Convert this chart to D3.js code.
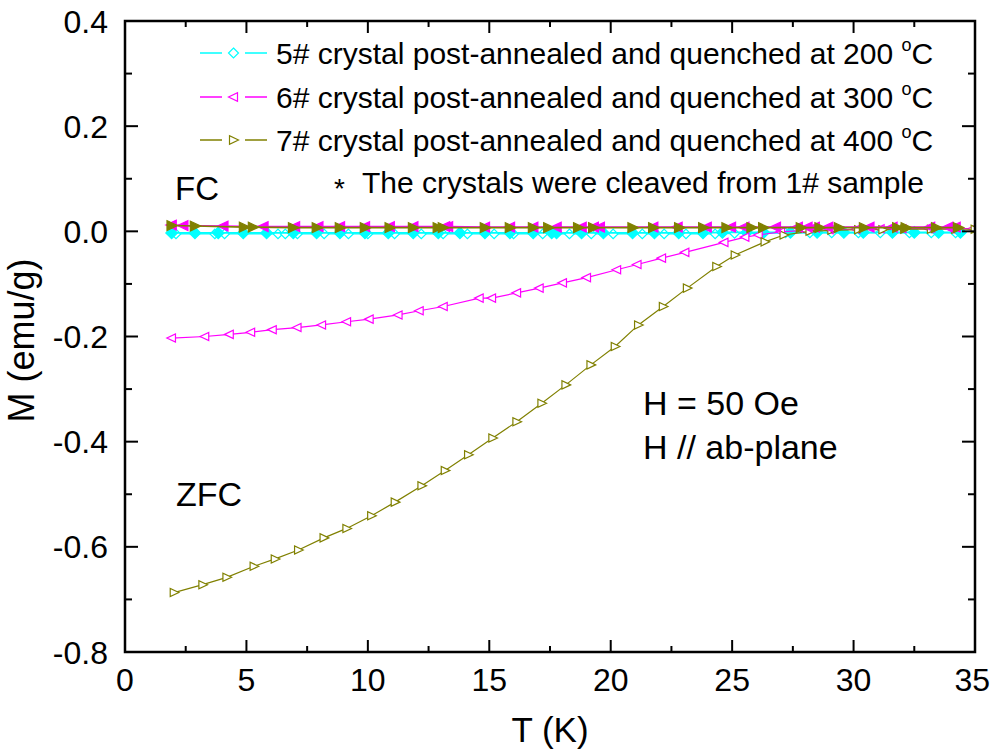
<!DOCTYPE html>
<html><head><meta charset="utf-8">
<script src="https://cdn.jsdelivr.net/npm/d3@7"></script>
<style>body{margin:0;background:#fff}svg{display:block}text{font-family:"Liberation Sans",Arial,sans-serif;fill:#000}</style>
</head><body><svg id="c" width="991" height="753"></svg>
<script>
// ---- data ----
const xTicks = [0,5,10,15,20,25,30,35];
const xTickLabels = ["0","5","10","15","20","25","30","35"];
const yTicks = [-0.8,-0.6,-0.4,-0.2,0.0,0.2,0.4];
const yTickLabels = ["-0.8","-0.6","-0.4","-0.2","0.0","0.2","0.4"];

// 5# (200 C) FC filled diamonds
const fc5T = [1.92,2.88,3.84,4.87,5.83,6.93,7.89,8.85,9.88,10.84,11.87,12.9,13.79,14.82,15.85,16.81,17.57,17.77,18.8,19.7,20.9,21.8,22.8,23.8,24.6,25.6,26.3,27.4,28.5,29.6,30.4,31.6,32.5,33.5,34.4];
const fc5M = [-0.003,-0.003,-0.003,-0.003,-0.003,-0.003,-0.003,-0.003,-0.003,-0.003,-0.003,-0.003,-0.003,-0.003,-0.003,-0.003,-0.003,-0.003,-0.003,-0.003,-0.003,-0.003,-0.003,-0.003,-0.002,-0.002,-0.002,-0.002,-0.002,-0.002,-0.002,-0.002,-0.002,-0.002,-0.002];
// 5# ZFC open diamonds
const zfc5T = [2.1,3.7,4.1,6.3,6.6,7.1,8.2,9.2,10.0,11.1,12.2,13.1,14.1,15.2,16.0,17.2,18.3,19.2,20.1,21.3,22.2,23.1,24.3,25.1,26.2,27.2,28.2,29.1,30.2,31.1,32.3,33.2,34.2];
const zfc5M = [-0.005,-0.005,-0.005,-0.005,-0.005,-0.005,-0.005,-0.005,-0.005,-0.005,-0.005,-0.005,-0.005,-0.005,-0.005,-0.005,-0.005,-0.005,-0.005,-0.005,-0.005,-0.005,-0.005,-0.004,-0.004,-0.003,-0.003,-0.003,-0.003,-0.003,-0.003,-0.003,-0.003];
// 6# (300 C) FC filled left triangles
const fc6T = [1.92,2.4,4.05,5.7,7.0,7.96,8.85,9.88,10.9,11.87,13.18,13.3,14.82,15.85,16.81,17.77,18.8,19.3,19.55,21.75,22.75,23.95,24.95,25.5,26.8,27.7,28.1,28.4,28.95,30.65,31.6,33.15,33.9,34.2];
const fc6M = [0.012,0.011,0.010,0.009,0.009,0.009,0.009,0.009,0.009,0.009,0.009,0.009,0.008,0.008,0.008,0.008,0.008,0.008,0.008,0.008,0.008,0.008,0.008,0.008,0.008,0.008,0.008,0.008,0.008,0.008,0.008,0.008,0.008,0.008];
// 6# ZFC open left triangles
const zfc6T = [1.92,3.29,4.30,5.18,6.07,7.09,8.10,9.13,10.06,11.25,12.12,13.11,14.59,15.10,16.13,17.06,18.02,19.01,20.25,21.09,22.10,23.06,24.67,25.53,26.08,27.0,28.0,29.0,30.1,31.1,32.0,33.1,34.0,34.9];
const zfc6M = [-0.203,-0.200,-0.196,-0.192,-0.187,-0.183,-0.178,-0.172,-0.167,-0.159,-0.151,-0.143,-0.127,-0.127,-0.117,-0.108,-0.098,-0.088,-0.073,-0.063,-0.051,-0.040,-0.021,-0.011,-0.007,-0.001,0.002,0.003,0.004,0.005,0.005,0.005,0.005,0.005];
// 7# (400 C) FC filled right triangles
const fc7T = [1.92,2.88,4.9,5.27,6.92,7.9,8.85,9.88,10.9,11.86,12.88,13.09,14.82,15.85,16.8,17.43,18.66,19.28,20.9,21.75,22.82,23.81,24.77,25.8,26.28,27.83,28.6,29.4,30.43,31.8,32.15,33.4,34.3];
const fc7M = [0.011,0.010,0.008,0.008,0.007,0.007,0.007,0.007,0.007,0.007,0.007,0.007,0.007,0.007,0.007,0.007,0.007,0.007,0.007,0.007,0.007,0.007,0.007,0.007,0.007,0.007,0.007,0.007,0.007,0.007,0.007,0.007,0.007];
// 7# ZFC open right triangles
const zfc7T = [2.02,3.2,4.19,5.31,6.18,7.14,8.19,9.13,10.15,11.12,12.22,13.18,14.14,15.14,16.13,17.16,18.15,19.18,20.18,21.14,22.16,23.15,24.36,25.12,26.35,27.13,28.2,29.1,30.2,31.2,32.1,33.2,34.2,35.0];
const zfc7M = [-0.687,-0.672,-0.658,-0.637,-0.623,-0.606,-0.583,-0.565,-0.541,-0.515,-0.484,-0.455,-0.425,-0.393,-0.362,-0.327,-0.292,-0.254,-0.219,-0.178,-0.143,-0.108,-0.067,-0.045,-0.020,-0.007,0.000,0.002,0.003,0.003,0.004,0.004,0.004,0.004];

const legendLabels = ["5# crystal post-annealed and quenched at 200 ","6# crystal post-annealed and quenched at 300 ","7# crystal post-annealed and quenched at 400 "];
const colors = ["#00FFFF","#FF00FF","#808000"];

// ---- layout ----
const W=991,L=125,R=975,T=21,B=652;
const svg=d3.select("#c");
const x=d3.scaleLinear().domain([0,35]).range([L,R]);
const y=d3.scaleLinear().domain([-0.8,0.4]).range([B,T]);

svg.append("clipPath").attr("id","pc").append("rect").attr("x",L).attr("y",T).attr("width",R-L).attr("height",B-T);

function sym(type, cx, cy, s){
  if(type==="diamond") return `M${cx},${cy-s}L${cx+s},${cy}L${cx},${cy+s}L${cx-s},${cy}Z`;
  if(type==="left") return `M${cx-s},${cy}L${cx+s*0.8},${cy-s*0.85}L${cx+s*0.8},${cy+s*0.85}Z`;
  if(type==="right") return `M${cx+s},${cy}L${cx-s*0.8},${cy-s*0.85}L${cx-s*0.8},${cy+s*0.85}Z`;
}
const series=[
  {t:zfc5T,m:zfc5M,c:colors[0],sym:"diamond",fill:false},
  {t:fc5T,m:fc5M,c:colors[0],sym:"diamond",fill:true},
  {t:zfc6T,m:zfc6M,c:colors[1],sym:"left",fill:false},
  {t:zfc7T,m:zfc7M,c:colors[2],sym:"right",fill:false},
  {t:fc6T,m:fc6M,c:colors[1],sym:"left",fill:true},
  {t:fc7T,m:fc7M,c:colors[2],sym:"right",fill:true},
];
const g=svg.append("g").attr("clip-path","url(#pc)");
const line=d3.line().x(d=>x(d[0])).y(d=>y(d[1]));
series.forEach(s=>{
  const pts=s.t.map((t,i)=>[t,s.m[i]]);
  g.append("path").attr("d",line(pts)).attr("fill","none").attr("stroke",s.c).attr("stroke-width",s.fill?1.6:1.2);
  g.selectAll(null).data(pts).enter().append("path")
    .attr("d",d=>sym(s.sym,x(d[0]),y(d[1]),s.fill?5.8:4.8))
    .attr("fill",s.fill?s.c:"#fff").attr("stroke",s.c).attr("stroke-width",1.2);
});

const ax=svg.append("g");
const xMinor=d3.range(0,35.01,2.5), yMinor=d3.range(-0.8,0.401,0.1);
const isMajX=v=>Math.abs(v/5-Math.round(v/5))<1e-6;
const isMajY=v=>Math.abs(v/0.2-Math.round(v/0.2))<1e-6;
xMinor.forEach(v=>{const len=isMajX(v)?12:6;
  ax.append("line").attr("x1",x(v)).attr("x2",x(v)).attr("y1",B).attr("y2",B-len).attr("stroke","#000").attr("stroke-width",2);
  ax.append("line").attr("x1",x(v)).attr("x2",x(v)).attr("y1",T).attr("y2",T+len).attr("stroke","#000").attr("stroke-width",2);
});
yMinor.forEach(v=>{const len=isMajY(v)?13:7;
  ax.append("line").attr("x1",L).attr("x2",L+len).attr("y1",y(v)).attr("y2",y(v)).attr("stroke","#000").attr("stroke-width",2);
  ax.append("line").attr("x1",R).attr("x2",R-len).attr("y1",y(v)).attr("y2",y(v)).attr("stroke","#000").attr("stroke-width",2);
});
ax.append("rect").attr("x",L).attr("y",T).attr("width",R-L).attr("height",B-T).attr("fill","none").attr("stroke","#000").attr("stroke-width",2.5);

xTicks.forEach((v,i)=>{
  const t=ax.append("text").attr("x",x(v)).attr("y",B+39).attr("text-anchor","middle").attr("font-size",32).text(xTickLabels[i]);
  const w=t.node().getComputedTextLength();
  if(x(v)+w/2>W-1) t.attr("x",W-1-w/2);
});
yTicks.forEach((v,i)=>ax.append("text").attr("x",L-17).attr("y",y(v)).attr("dy","0.36em").attr("text-anchor","end").attr("font-size",32).text(yTickLabels[i]));

svg.append("text").attr("x",(L+R)/2).attr("y",742).attr("text-anchor","middle").attr("font-size",35).text("T (K)");
svg.append("text").attr("transform",`translate(34,${(T+B)/2+4}) rotate(-90)`).attr("text-anchor","middle").attr("font-size",36).text("M (emu/g)");

const legY=[53,97,140];
const legSym=["diamond","left","right"];
legendLabels.forEach((lab,i)=>{
  const lg=svg.append("g");
  lg.append("line").attr("x1",200).attr("x2",222).attr("y1",legY[i]).attr("y2",legY[i]).attr("stroke",colors[i]).attr("stroke-width",1.5);
  lg.append("line").attr("x1",245).attr("x2",267).attr("y1",legY[i]).attr("y2",legY[i]).attr("stroke",colors[i]).attr("stroke-width",1.5);
  lg.append("path").attr("d",sym(legSym[i],233.5,legY[i],5)).attr("fill","#fff").attr("stroke",colors[i]).attr("stroke-width",1.2);
  const t=lg.append("text").attr("x",276).attr("y",legY[i]+11).attr("font-size",30);
  t.append("tspan").text(lab);
  t.append("tspan").attr("font-size",18).attr("dy",-13).text("o");
  t.append("tspan").attr("dy",13).text("C");
});
svg.append("text").attr("x",334).attr("y",198).attr("font-size",28).text("*");
svg.append("text").attr("x",362).attr("y",193).attr("font-size",30).text("The crystals were cleaved from 1# sample");

svg.append("text").attr("x",175).attr("y",200).attr("font-size",33).text("FC");
svg.append("text").attr("x",176).attr("y",506).attr("font-size",34).text("ZFC");
svg.append("text").attr("x",643).attr("y",415).attr("font-size",34).text("H = 50 Oe");
svg.append("text").attr("x",643).attr("y",459).attr("font-size",34).text("H // ab-plane");
</script></body></html>
